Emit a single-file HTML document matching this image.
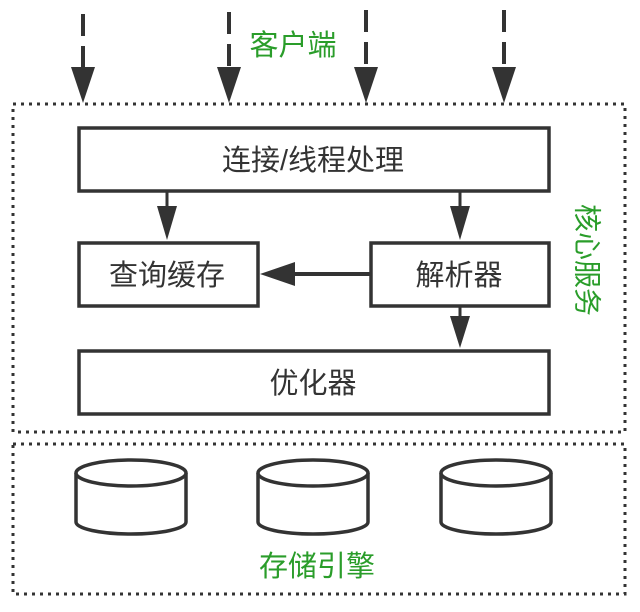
<!DOCTYPE html>
<html><head><meta charset="utf-8"><style>
body{margin:0;background:#fff}
svg{display:block}
text{font-family:"Liberation Sans","Noto Sans CJK SC",sans-serif}
</style></head><body>
<svg width="640" height="612" viewBox="0 0 640 612" xmlns="http://www.w3.org/2000/svg">
<g stroke="#333" stroke-width="3" fill="none">
<rect x="13" y="104" width="612" height="328" stroke-dasharray="3,5"/>
<rect x="13" y="444" width="612" height="150" stroke-dasharray="3,5"/>
</g>
<g stroke="#333" stroke-width="4" stroke-dasharray="22,10">
<line x1="83" y1="14" x2="83" y2="70"/>
<line x1="229" y1="12" x2="229" y2="70"/>
<line x1="366" y1="10" x2="366" y2="70"/>
<line x1="504" y1="10" x2="504" y2="70"/>
</g>
<g fill="#333">
<path d="M71,67L95,67L83,103z"/>
<path d="M217,67L241,67L229,103z"/>
<path d="M354,67L378,67L366,103z"/>
<path d="M492,67L516,67L504,103z"/>
</g>
<text x="293" y="55" font-size="29" fill="#2a9d2a" text-anchor="middle">客户端</text>
<g stroke="#333" stroke-width="3.5" fill="#fff">
<rect x="79" y="128" width="470" height="63"/>
<rect x="79" y="243" width="179" height="63"/>
<rect x="371" y="243" width="178" height="63"/>
<rect x="79" y="351" width="470" height="63"/>
</g>
<g font-size="29" fill="#333" text-anchor="middle">
<text x="313" y="170">连接/线程处理</text>
<text x="167" y="285">查询缓存</text>
<text x="459" y="285">解析器</text>
<text x="313" y="393">优化器</text>
</g>
<g stroke="#333" stroke-width="3">
<line x1="167" y1="192" x2="167" y2="210"/>
<line x1="460" y1="192" x2="460" y2="210"/>
<line x1="460" y1="307" x2="460" y2="320"/>
<line x1="370" y1="274" x2="290" y2="274" stroke-width="4"/>
</g>
<g fill="#333">
<path d="M157,206L177,206L167,240z"/>
<path d="M450,206L470,206L460,240z"/>
<path d="M450,316L470,316L460,348z"/>
<path d="M260,274L295,262L295,286z"/>
</g>
<text transform="translate(587,260) rotate(90)" font-size="28" fill="#2a9d2a" text-anchor="middle" dominant-baseline="central">核心服务</text>
<g stroke="#333" stroke-width="3.5" fill="#fff">
<path d="M76,473L76,522A55,12 0 0 0 186,522L186,473"/>
<ellipse cx="131" cy="473" rx="55" ry="13"/>
<path d="M258,473L258,522A55,12 0 0 0 368,522L368,473"/>
<ellipse cx="313" cy="473" rx="55" ry="13"/>
<path d="M441,473L441,522A55,12 0 0 0 551,522L551,473"/>
<ellipse cx="496" cy="473" rx="55" ry="13"/>
</g>
<text x="317" y="576" font-size="29" fill="#2a9d2a" text-anchor="middle">存储引擎</text>
</svg>
</body></html>
